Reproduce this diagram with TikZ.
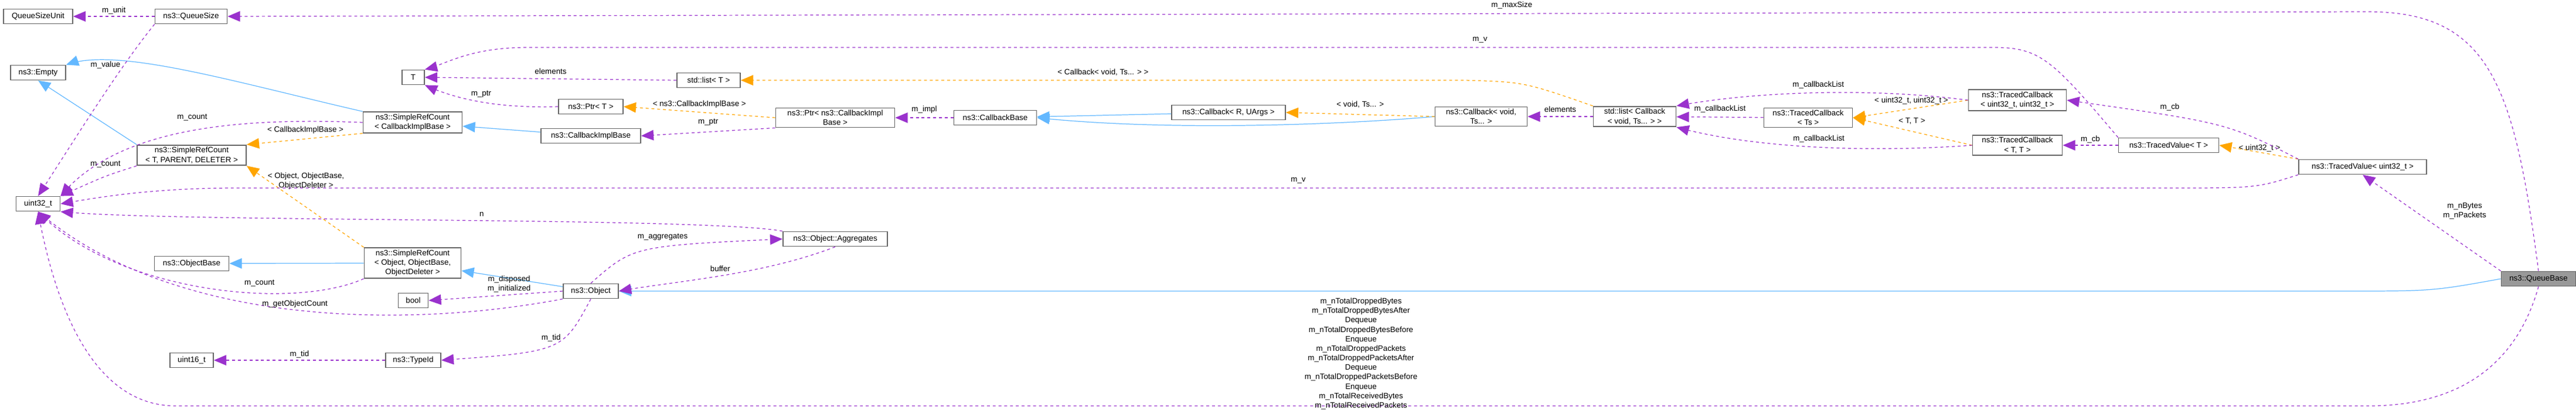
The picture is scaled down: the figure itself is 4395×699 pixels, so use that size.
\documentclass[tikz,border=0pt]{standalone}
\usepackage{fontspec}
\setmainfont{Liberation Sans}
\usetikzlibrary{arrows}
\definecolor{mem_purple}{RGB}{154, 50, 205}
\definecolor{inh_blue}{RGB}{99, 184, 255}
\definecolor{tpl_orange}{RGB}{255, 165, 0}
\tikzstyle{cls}=[rectangle,draw=black!60,fill=white,line width=0.5pt,
  inner sep=1pt,minimum height=25*0.01cm,align=center,font=\fontsize{3.8}{4.6}\selectfont]
\tikzstyle{cur}=[cls,fill=black!40]
\tikzstyle{lbl}=[inner sep=0pt,align=center,font=\fontsize{3.8}{4.6}\selectfont]
\tikzstyle{member}=[draw=mem_purple,-triangle 45,dash pattern=on 1.4pt off 1.4pt,line width=0.35pt]
\tikzstyle{inherit}=[draw=inh_blue,-triangle 45,line width=0.35pt]
\tikzstyle{tmpl}=[draw=tpl_orange,-triangle 45,dash pattern=on 1.4pt off 1.4pt,line width=0.35pt]
\begin{document}
\begin{tikzpicture}[x=0.01cm, y=-0.01cm]
            \useasboundingbox (0,0) rectangle (4395,699);
            \node [style=cls, minimum width=118*0.01cm] (qsu) at (65, 28) {QueueSizeUnit};
            \node [style=cls, minimum width=123*0.01cm] (qsize) at (326, 28) {ns3::QueueSize};
            \node [style=cls, minimum width=94*0.01cm] (empty) at (65, 124) {ns3::Empty};
            \node [style=cls, minimum width=38*0.01cm] (T) at (705, 132) {T};
            \node [style=cls, minimum width=110*0.01cm] (ptrT) at (1008, 182) {ns3::Ptr\textless{} T \textgreater};
            \node [style=cls, minimum width=169*0.01cm] (srcCib) at (704, 209) {ns3::SimpleRefCount\\\textless{} CallbackImplBase \textgreater};
            \node [style=cls, minimum width=170*0.01cm] (cib) at (1008, 232) {ns3::CallbackImplBase};
            \node [style=cls, minimum width=186*0.01cm] (srcTpd) at (327, 265) {ns3::SimpleRefCount\\\textless{} T, PARENT, DELETER \textgreater};
            \node [style=cls, minimum width=75*0.01cm] (u32) at (65, 348) {uint32\_t};
            \node [style=cls, minimum width=127*0.01cm] (objbase) at (327, 450) {ns3::ObjectBase};
            \node [style=cls, minimum width=165*0.01cm] (srcObj) at (704, 449) {ns3::SimpleRefCount\\\textless{} Object, ObjectBase,\\ObjectDeleter \textgreater};
            \node [style=cls, minimum width=51*0.01cm] (bool) at (705, 513) {bool};
            \node [style=cls, minimum width=94*0.01cm] (obj) at (1008, 497) {ns3::Object};
            \node [style=cls, minimum width=74*0.01cm] (u16) at (327, 615) {uint16\_t};
            \node [style=cls, minimum width=94*0.01cm] (tid) at (705, 615) {ns3::TypeId};
            \node [style=cls, minimum width=108*0.01cm] (listT) at (1209, 137) {std::list\textless{} T \textgreater};
            \node [style=cls, minimum width=203*0.01cm] (ptrCib) at (1425, 201) {ns3::Ptr\textless{} ns3::CallbackImpl\\Base \textgreater};
            \node [style=cls, minimum width=141*0.01cm] (cbb) at (1698, 201) {ns3::CallbackBase};
            \node [style=cls, minimum width=194*0.01cm] (cbR) at (2096, 192) {ns3::Callback\textless{} R, UArgs \textgreater};
            \node [style=cls, minimum width=178*0.01cm] (aggr) at (1425, 408) {ns3::Object::Aggregates};
            \node [style=cls, minimum width=157*0.01cm] (cbVoid) at (2527, 199) {ns3::Callback\textless{} void,\\Ts... \textgreater};
            \node [style=cls, minimum width=141*0.01cm] (listCb) at (2789, 199) {std::list\textless{} Callback\\\textless{} void, Ts... \textgreater{} \textgreater};
            \node [style=cls, minimum width=151*0.01cm] (tcTs) at (3085, 201) {ns3::TracedCallback\\\textless{} Ts \textgreater};
            \node [style=cls, minimum width=167*0.01cm] (tcUU) at (3442, 171) {ns3::TracedCallback\\\textless{} uint32\_t, uint32\_t \textgreater};
            \node [style=cls, minimum width=153*0.01cm] (tcTT) at (3442, 248) {ns3::TracedCallback\\\textless{} T, T \textgreater};
            \node [style=cls, minimum width=171*0.01cm] (tvT) at (3700, 248) {ns3::TracedValue\textless{} T \textgreater};
            \node [style=cls, minimum width=218*0.01cm] (tvU) at (4031, 285) {ns3::TracedValue\textless{} uint32\_t \textgreater};
            \node [style=cur, minimum width=127*0.01cm] (qbase) at (4331, 476) {ns3::QueueBase};
            % inheritance
            \draw [style=inherit] (srcCib.north west) .. controls (400,140) and (200,80) .. (empty.north east);
            \draw [style=inherit] (srcTpd.north west) to (empty.south);
            \draw [style=inherit] (cib) to (srcCib);
            \draw [style=inherit] (srcObj) to (objbase);
            \draw [style=inherit] (obj) to (srcObj);
            \draw [style=inherit] (cbR) to (cbb);
            \draw [style=inherit] (cbVoid.west) .. controls (2300,212) and (2000,225) .. (cbb.east);
            \draw [style=inherit] (qbase.west) .. controls (4150,497) .. (4000,497) -- (obj.east);
            % templates
            \draw [style=tmpl] (srcCib.south west) to (srcTpd.north east);
            \node [style=lbl] (lblCib) at (521, 222) {\textless{} CallbackImplBase \textgreater};
            \draw [style=tmpl] (srcObj.north west) to (srcTpd.south east);
            \node [style=lbl] (lblObj) at (522, 309) {\textless{} Object, ObjectBase,\\ObjectDeleter \textgreater};
            \draw [style=tmpl] (ptrCib.west) to node [style=lbl, above=2pt] {\textless{} ns3::CallbackImplBase \textgreater} (ptrT.east);
            \draw [style=tmpl] (listCb.north west) .. controls (2600,140) .. (2500,137) -- node [style=lbl, above=2pt] {\textless{} Callback\textless{} void, Ts... \textgreater{} \textgreater} (listT.east);
            \draw [style=tmpl] (cbVoid.west) to node [style=lbl, above=3pt] {\textless{} void, Ts... \textgreater} (cbR.east);
            \draw [style=tmpl] (tcUU.west) to (tcTs.east);
            \node [style=lbl] (lblUU) at (3261, 172) {\textless{} uint32\_t, uint32\_t \textgreater};
            \draw [style=tmpl] (tcTT.west) to (tcTs.east);
            \node [style=lbl] (lblTT) at (3262, 207) {\textless{} T, T \textgreater};
            \draw [style=tmpl] (tvU.north west) to (tvT.east);
            \node [style=lbl] (lblU) at (3855, 253) {\textless{} uint32\_t \textgreater};
            % members
            \draw [style=member] (qsize) to node [style=lbl, above=1pt] {m\_unit} (qsu);
            \draw [style=member] (qbase.north) .. controls (4290,150) and (4250,20) .. (4040,20) -- node [style=lbl, above=2pt, pos=0.4] {m\_maxSize} (qsize.east);
            \draw [style=member] (qsize.south west) .. controls (200,120) and (120,250) .. (u32.north);
            \node [style=lbl] (lblValue) at (180, 111) {m\_value};
            \draw [style=member] (srcCib.west) .. controls (400,200) and (200,220) .. (u32.north east);
            \node [style=lbl] (lblCnt1) at (328, 200) {m\_count};
            \draw [style=member] (srcTpd.south west) .. controls (180,300) .. (u32.north east);
            \node [style=lbl] (lblCnt2) at (180, 280) {m\_count};
            \draw [style=member] (ptrT.west) .. controls (850,185) and (780,170) .. node [style=lbl, above=2pt] {m\_ptr} (T.south east);
            \draw [style=member] (listT.west) to node [style=lbl, above=2pt] {elements} (T.east);
            \draw [style=member] (tvT.north west) .. controls (3500,100) and (3480,81) .. (3400,81) -- node [style=lbl, above=2pt, pos=0.35] {m\_v} (900,81) .. controls (800,81) and (760,110) .. (T.north east);
            \draw [style=member] (ptrCib.south west) to node [style=lbl, above=3pt] {m\_ptr} (cib.east);
            \draw [style=member] (cbb) to node [style=lbl, above=2pt] {m\_impl} (ptrCib);
            \draw [style=member] (listCb) to node [style=lbl, above=2pt] {elements} (cbVoid);
            \draw [style=member] (tcTs) to node [style=lbl, above=2pt] {m\_callbackList} (listCb);
            \draw [style=member] (tcUU.west) .. controls (3200,150) and (3000,155) .. node [style=lbl, above=2pt, pos=0.5] {m\_callbackList} (listCb.north east);
            \draw [style=member] (tcTT.west) .. controls (3200,260) and (3000,255) .. node [style=lbl, above=2pt, pos=0.5] {m\_callbackList} (listCb.south east);
            \draw [style=member] (tvT) to node [style=lbl, above=1pt] {m\_cb} (tcTT);
            \draw [style=member] (tvU.north west) .. controls (3800,210) .. (tcUU.east);
            \node [style=lbl] (lblCb) at (3702, 183) {m\_cb};
            \draw [style=member] (tvU.south west) .. controls (3850,321) .. (3700,321) -- node [style=lbl, above=2pt, pos=0.45] {m\_v} (400,321) .. controls (250,321) and (150,340) .. (u32.east);
            \draw [style=member] (qbase.north west) to (tvU.south);
            \node [style=lbl] (lblBytes) at (4205, 360) {m\_nBytes\\m\_nPackets};
            \draw [style=member] (aggr.north west) .. controls (1200,370) and (300,380) .. node [style=lbl, above=2pt, pos=0.45] {n} (u32.south east);
            \draw [style=member] (srcObj.south west) .. controls (500,530) and (200,500) .. node [style=lbl, above=3pt, pos=0.35] {m\_count} (u32.south);
            \draw [style=member] (obj.west) to node [style=lbl, above=1pt, pos=0.4] {m\_disposed\\m\_initialized} (bool.east);
            \draw [style=member] (obj.south west) .. controls (700,560) and (300,560) .. node [style=lbl, above=1pt, pos=0.5] {m\_getObjectCount} (u32.south);
            \draw [style=member] (obj.south) .. controls (960,600) .. node [style=lbl, above=2pt, pos=0.5] {m\_tid} (tid.east);
            \draw [style=member] (tid) to node [style=lbl, above=1pt] {m\_tid} (u16);
            \draw [style=member] (obj.north) .. controls (1080,420) .. node [style=lbl, above=3pt, pos=0.6] {m\_aggregates} (aggr.west);
            \draw [style=member] (aggr.south) .. controls (1300,470) and (1150,480) .. node [style=lbl, above=2pt, pos=0.5] {buffer} (obj.east);
            \draw [style=member] (qbase.south) .. controls (4300,600) and (4220,693) .. (4040,693) -- (300,693) .. controls (150,693) and (90,500) .. (u32.south);
            \node [style=lbl] (lblTotal) at (2322, 604) {m\_nTotalDroppedBytes\\m\_nTotalDroppedBytesAfter\\Dequeue\\m\_nTotalDroppedBytesBefore\\Enqueue\\m\_nTotalDroppedPackets\\m\_nTotalDroppedPacketsAfter\\Dequeue\\m\_nTotalDroppedPacketsBefore\\Enqueue\\m\_nTotalReceivedBytes\\m\_nTotalReceivedPackets};
    \end{tikzpicture}
\end{document}
